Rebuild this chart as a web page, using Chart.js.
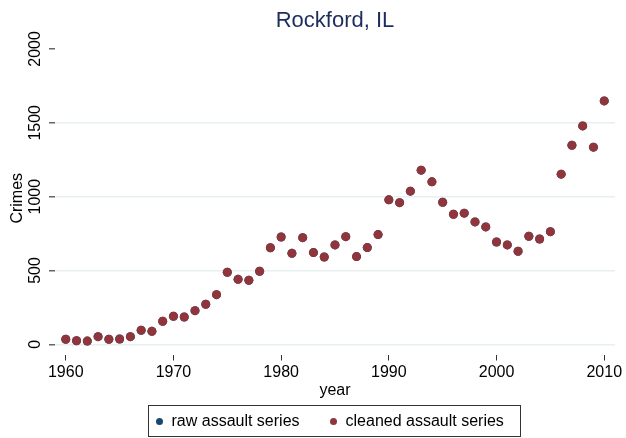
<!DOCTYPE html>
<html>
<head>
<meta charset="utf-8">
<script src="https://cdn.jsdelivr.net/npm/chart.js@4/dist/chart.umd.min.js"></script>
<style>
  body { margin: 0; background: #fff; }
  #wrap { position: relative; width: 626px; height: 438px; }
  #legend {
    position: absolute; left: 148px; top: 405px; width: 373px; height: 32px;
    box-sizing: border-box; border: 1px solid #333;
    display: flex; align-items: center;
    font: 16px "Liberation Sans", Arial, sans-serif; color: #000;
  }
  #legend .dot { width: 7px; height: 7px; border-radius: 50%; display: inline-block; flex: none; }
  #legend .item { display: flex; align-items: center; }
  #legend .item span.txt { margin-left: 9px; }
</style>
</head>
<body>
<div id="wrap">
  <canvas id="chart" width="626" height="438"></canvas>
  <div id="legend"></div>
</div>
<script>
const years = [1960, 1961, 1962, 1963, 1964, 1965, 1966, 1967, 1968, 1969,
               1970, 1971, 1972, 1973, 1974, 1975, 1976, 1977, 1978, 1979,
               1980, 1981, 1982, 1983, 1984, 1985, 1986, 1987, 1988, 1989,
               1990, 1991, 1992, 1993, 1994, 1995, 1996, 1997, 1998, 1999,
               2000, 2001, 2002, 2003, 2004, 2005, 2006, 2007, 2008, 2009, 2010];

// raw series sits under the cleaned one (same values)
const rawAssault = [34, 24, 22, 52, 34, 36, 52, 95, 88, 156,
                    190, 185, 228, 271, 336, 488, 440, 434, 495, 654,
                    727, 616, 722, 621, 591, 673, 729, 594, 655, 743,
                    978, 959, 1037, 1179, 1100, 962, 881, 888, 829, 795,
                    693, 673, 630, 732, 713, 763, 1152, 1348, 1479, 1335, 1648];
const cleanedAssault = [34, 24, 22, 52, 34, 36, 52, 95, 88, 156,
                        190, 185, 228, 271, 336, 488, 440, 434, 495, 654,
                        727, 616, 722, 621, 591, 673, 729, 594, 655, 743,
                        978, 959, 1037, 1179, 1100, 962, 881, 888, 829, 795,
                        693, 673, 630, 732, 713, 763, 1152, 1348, 1479, 1335, 1648];

const xTicks = [1960, 1970, 1980, 1990, 2000, 2010];
const yTicks = [0, 500, 1000, 1500, 2000];

const FONT = '"Liberation Sans", Arial, sans-serif';

const toPoints = (vals) => years.map((y, i) => ({ x: y, y: vals[i] }));

// y tick labels in the reference are turned on their side
const sideLabels = {
  id: 'sideLabels',
  afterDraw(chart) {
    const ctx = chart.ctx;
    const yScale = chart.scales.y;
    ctx.save();
    ctx.font = '16px ' + FONT;
    ctx.fillStyle = '#000';
    ctx.textAlign = 'center';
    ctx.textBaseline = 'middle';
    yTicks.forEach((v) => {
      const py = yScale.getPixelForValue(v);
      ctx.save();
      ctx.translate(36, py);
      ctx.rotate(-Math.PI / 2);
      ctx.fillText(String(v), 0, 0);
      ctx.restore();
    });
    ctx.restore();
  }
};

const chart = new Chart(document.getElementById('chart'), {
  type: 'scatter',
  data: {
    datasets: [
      {
        label: 'raw assault series',
        data: toPoints(rawAssault),
        backgroundColor: '#1a476f',
        borderWidth: 0,
        pointRadius: 4.5,
        order: 2,
      },
      {
        label: 'cleaned assault series',
        data: toPoints(cleanedAssault),
        backgroundColor: '#90353b',
        borderWidth: 0,
        pointRadius: 4.5,
        order: 1,
      },
    ],
  },
  options: {
    responsive: false,
    animation: false,
    devicePixelRatio: 1,
    layout: { padding: { top: 0, left: 0, right: 11, bottom: 38 } },
    plugins: {
      legend: { display: false },
      tooltip: { enabled: false },
      title: {
        display: true,
        text: 'Rockford, IL',
        fullSize: false,
        color: '#1e2d5c',
        font: { family: FONT, size: 22, weight: 'normal' },
        padding: { top: 8, bottom: 7.6 },
      },
    },
    scales: {
      x: {
        type: 'linear',
        min: 1959,
        max: 2011,
        border: { display: false },
        grid: { drawOnChartArea: false, drawTicks: true, tickLength: 6, tickColor: '#333' },
        afterBuildTicks: (scale) => { scale.ticks = xTicks.map((v) => ({ value: v })); },
        afterFit: (scale) => { scale.height = 45.5; },
        ticks: {
          color: '#000',
          padding: 2,
          maxRotation: 0,
          font: { family: FONT, size: 16 },
          callback: (v) => String(v),
        },
        title: {
          display: true,
          text: 'year',
          color: '#000',
          font: { family: FONT, size: 16 },
          padding: { top: 0, bottom: 0 },
        },
      },
      y: {
        min: -69,
        max: 2047,
        border: { display: false },
        grid: {
          color: (c) => (c.tick && c.tick.value === 2000 ? 'rgba(0,0,0,0)' : '#e8eff1'),
          lineWidth: 1.5,
          tickColor: '#666',
          tickLength: 6,
        },
        afterBuildTicks: (scale) => { scale.ticks = yTicks.map((v) => ({ value: v })); },
        afterFit: (scale) => { scale.width = 55; },
        ticks: { display: false },
        title: {
          display: true,
          text: 'Crimes',
          color: '#000',
          font: { family: FONT, size: 16 },
          padding: { top: 8, bottom: 0 },
        },
      },
    },
  },
  plugins: [sideLabels],
});

// legend box below the axis, built from the datasets
const legendEl = document.getElementById('legend');
const gaps = [6.5, 30];
chart.data.datasets.forEach((ds, i) => {
  const item = document.createElement('div');
  item.className = 'item';
  item.style.marginLeft = gaps[i] + 'px';
  item.innerHTML = '<span class="dot" style="background:' + ds.backgroundColor + '"></span>' +
                   '<span class="txt">' + ds.label + '</span>';
  legendEl.appendChild(item);
});
</script>
</body>
</html>
